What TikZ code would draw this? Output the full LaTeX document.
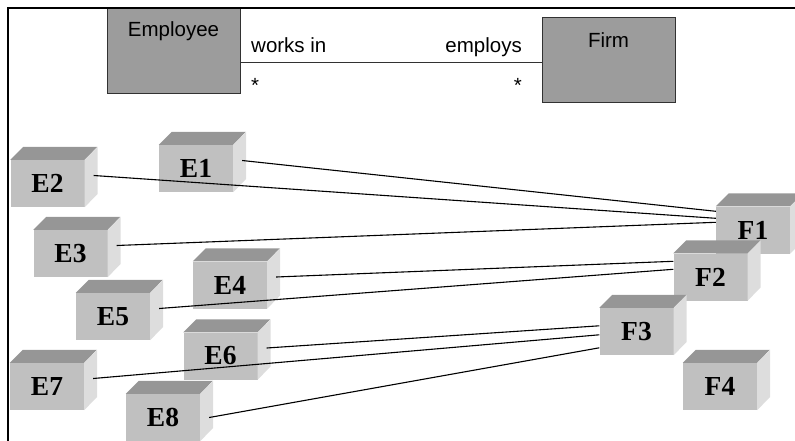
\documentclass[tikz,border=0pt]{standalone}
\usepackage{fontspec}
\setmainfont{Liberation Serif}
\newfontfamily\umlfont{Liberation Sans}
\usetikzlibrary{calc}
\definecolor{frontgray}{RGB}{192,192,192}
\definecolor{topgray}{RGB}{150,150,150}
\definecolor{sidegray}{RGB}{221,221,221}
\definecolor{umlgray}{RGB}{156,156,156}
\definecolor{umlline}{RGB}{50,50,50}
\tikzset{
  cubefront/.style={fill=frontgray, minimum width=74pt, minimum height=47pt, inner sep=0pt,
    font=\bfseries\fontsize{27.5}{29}\selectfont},
  cubetop/.style={fill=topgray},
  cubeside/.style={fill=sidegray},
  umlbox/.style={draw=umlline, line width=0.9pt, fill=umlgray, minimum width=133pt, minimum height=85pt, inner sep=0pt},
  umltext/.style={font=\umlfont\fontsize{20.5}{24}\selectfont, inner sep=0pt},
  link/.style={line width=1.1pt, black},
  frameline/.style={line width=2.5pt, black}
}
\newcommand\cubeat[4]{%
  \node[cubefront] (#1) at (#2,#3) {\raisebox{-1.5pt}{#4}};
  \fill[cubetop] (#1.north west) -- ++(13,-13) -- ++(74,0) -- (#1.north east) -- cycle;
  \fill[cubeside] (#1.north east) -- ++(13,-13) -- ++(0,47) -- (#1.south east) -- cycle;
  \coordinate (#1s) at ($(#1.east)+(9,-8)$);
}
\begin{document}
\begin{tikzpicture}[x=1pt,y=-1pt]
\useasboundingbox (0,0) rectangle (795,441);
% UML part
\node[umlbox] (Emp) at (173.5,50.5) {};
\node[umltext, anchor=base] (EmpT) at (173.5,37) {Employee};
\node[umlbox] (Firm) at (608.5,59.5) {};
\node[umltext, anchor=base] (FirmT) at (608.5,48) {Firm};
\coordinate (Ea) at ($(Emp.south east)+(0,-31)$);
\coordinate (Fa) at ($(Firm.south west)+(0,-40)$);
\draw[line width=0.9pt, umlline] (Ea) -- (Fa);
\node[umltext, anchor=base west] (wk) at (251,53) {works in};
\node[umltext, anchor=base west] (s1) at (251,93) {*};
\node[umltext, anchor=base east] (em) at (522,53) {employs};
\node[umltext, anchor=base east] (s2) at (522,93) {*};
% cubes
\cubeat{E1}{196}{168.5}{E1}
\cubeat{E2}{47.5}{183.5}{E2}
\cubeat{E3}{70.5}{253.5}{E3}
\cubeat{E4}{230}{285}{E4}
\cubeat{E5}{113}{316.5}{E5}
\cubeat{E6}{220.5}{356}{E6}
\cubeat{E7}{47}{386.5}{E7}
\cubeat{E8}{163}{417.5}{E8}
\cubeat{F1}{753}{230}{F1}
\cubeat{F2}{710.5}{277}{F2}
\cubeat{F3}{636.5}{331.5}{F3}
\cubeat{F4}{720}{386.5}{F4}
\coordinate (E8s) at ($(E8.east)+(9,0)$);
% links
\draw[link] (E1s) -- ($(F1.north west)+(0,5)$);
\draw[link] (E2s) -- ($(F1.north west)+(0,12)$);
\draw[link] (E3s) -- ($(F1.north west)+(0,16)$);
\draw[link] (E4s) -- ($(F2.north west)+(0,8)$);
\draw[link] (E5s) -- ($(F2.north west)+(0,16)$);
\draw[link] (E6s) -- ($(F3.north west)+(0,18)$);
\draw[link] (E7s) -- ($(F3.north west)+(0,27)$);
\draw[link] (E8s) -- ($(F3.north west)+(0,40)$);
% frame
\draw[frameline] (795,8) -- (8,8) -- (8,441);
\end{tikzpicture}
\end{document}
